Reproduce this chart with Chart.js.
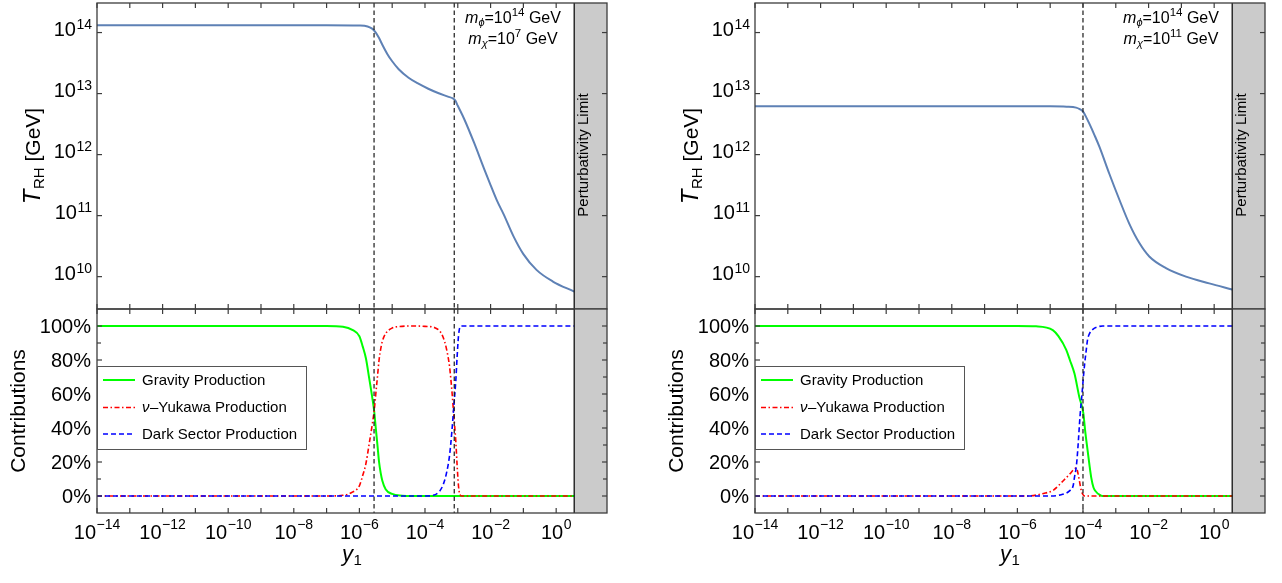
<!DOCTYPE html>
<html><head><meta charset="utf-8">
<script src="https://cdn.jsdelivr.net/npm/chart.js@4.4.0/dist/chart.umd.min.js"></script>
<style>
html,body{margin:0;padding:0;background:#fff;}
#wrap{position:relative;width:1282px;height:583px;overflow:hidden;background:#fff;}
canvas{position:absolute;top:0;}
</style></head><body>
<div id="wrap">
<canvas id="Ltop" width="641" height="583" style="left:0px"></canvas>
<canvas id="Lbot" width="641" height="583" style="left:0px"></canvas>
<canvas id="Rtop" width="641" height="583" style="left:641px"></canvas>
<canvas id="Rbot" width="641" height="583" style="left:641px"></canvas>
</div>
<script>
// ---------------- DATA ----------------
const xMin = 1e-14, xMax = 35.45, perturbLimit = 3.545;
const tMin = 2.95e9, tMax = 3.05e14;
const pctMin = -10, pctMax = 110;

const xTicks = [1e-14,1e-13,1e-12,1e-11,1e-10,1e-9,1e-8,1e-7,1e-6,1e-5,1e-4,1e-3,1e-2,1e-1,1e0];
const xTickLabels = ['\u221214','','\u221212','','\u221210','','\u22128','','\u22126','','\u22124','','\u22122','','0'];
const tTicks = [1e10,1e11,1e12,1e13,1e14];
const tTickLabels = ['10','11','12','13','14'];
const pctTicks = [0,10,20,30,40,50,60,70,80,90,100];
const pctTickLabels = ['0%','','20%','','40%','','60%','','80%','','100%'];

// left panel (m_chi = 1e7 GeV)
const leftTransitions = [2.8e-6, 7.8e-4];
const leftTopY1 = [1e-14,1e-7,1e-6,1.78e-6,2.51e-6,3.16e-6,3.98e-6,5.01e-6,7.08e-6,1e-5,1.58e-5,3.16e-5,6.31e-5,1.26e-4,2.51e-4,5.01e-4,7.08e-4,8.32e-4,1e-3,1.58e-3,3.16e-3,6.31e-3,1e-2,1.58e-2,2.51e-2,5.01e-2,0.1,0.251,0.794,3.545];
const leftTopTRH = [1.318e14,1.318e14,1.303e14,1.259e14,1.148e14,1.0e14,8.13e13,6.31e13,4.47e13,3.39e13,2.51e13,1.82e13,1.45e13,1.20e13,1.02e13,8.91e12,8.32e12,7.76e12,6.31e12,3.80e12,1.55e12,5.89e11,3.16e11,1.74e11,1.05e11,4.57e10,2.34e10,1.29e10,8.32e9,5.69e9];

const leftGravY1 = [1e-14,1e-7,3.16e-7,6.31e-7,1e-6,1.26e-6,1.58e-6,2.0e-6,2.51e-6,2.82e-6,3.16e-6,3.55e-6,3.98e-6,4.47e-6,5.01e-6,6.31e-6,1e-5,2.0e-5,3.98e-5,3.545];
const leftGravPct = [100,100,99.6,97.6,94,88,81,69,57,50,40,30,20,13.5,9,4,1.2,0.2,0,0];
const leftYukY1 = [1e-14,1e-7,3.16e-7,6.31e-7,1e-6,1.26e-6,1.58e-6,2.0e-6,2.51e-6,2.82e-6,3.16e-6,3.55e-6,3.98e-6,4.47e-6,5.01e-6,6.31e-6,1e-5,2.0e-5,3.98e-5,1e-4,2.0e-4,2.82e-4,3.55e-4,4.47e-4,5.62e-4,6.61e-4,7.59e-4,8.71e-4,9.55e-4,1.05e-3,1.15e-3,1.32e-3,3.545];
const leftYukPct = [0,0,0.4,2.4,6,12,19,31,43,50,60,70,80,86.5,91,95.5,98.8,99.8,100,99.8,99,97,93.5,87,76,62,47,32,18,6,1,0,0];
const leftDarkY1 = [1e-14,1e-4,1.78e-4,2.82e-4,3.55e-4,4.47e-4,5.62e-4,6.61e-4,7.59e-4,8.71e-4,9.55e-4,1.05e-3,1.15e-3,1.32e-3,3.545];
const leftDarkPct = [0,0,0.4,3,6.5,13,24,38,53,68,82,94,99,100,100];

// right panel (m_chi = 1e11 GeV)
const rightTransitions = [1.0e-4];
const rightTopY1 = [1e-14,1e-5,3.16e-5,6.17e-5,7.94e-5,1.02e-4,1.26e-4,1.55e-4,2.24e-4,3.16e-4,6.31e-4,1.29e-3,2.57e-3,5.25e-3,1.05e-2,3.39e-2,0.138,0.708,3.545];
const rightTopTRH = [6.17e12,6.17e12,6.10e12,5.89e12,5.56e12,5.01e12,4.07e12,3.24e12,2.09e12,1.35e12,4.90e11,1.82e11,7.41e10,3.55e10,2.14e10,1.38e10,1.0e10,7.76e9,6.17e9];

const rightGravY1 = [1e-14,1e-6,3.72e-6,1.20e-5,1.78e-5,3.09e-5,3.98e-5,5.50e-5,7.76e-5,1.02e-4,1.17e-4,1.38e-4,1.58e-4,1.78e-4,2.09e-4,2.51e-4,3.16e-4,3.98e-4,3.545];
const rightGravPct = [100,100,99.8,97.6,94,86,80,72,58,49,38,27,18,11,5,2.5,0.8,0,0];
const rightYukY1 = [1e-14,2.0e-6,6.31e-6,1.26e-5,2.51e-5,3.98e-5,5.50e-5,6.31e-5,7.08e-5,7.94e-5,8.91e-5,1e-4,1.12e-4,3.545];
const rightYukPct = [0,0,1.5,3.5,9,13,16,16.5,13,8,3,0.8,0,0];
const rightDarkY1 = [1e-14,1e-5,1.91e-5,3.89e-5,5.01e-5,5.50e-5,6.31e-5,6.92e-5,8.13e-5,9.33e-5,1.10e-4,1.26e-4,1.38e-4,1.58e-4,2.0e-4,2.82e-4,3.98e-4,3.545];
const rightDarkPct = [0,0,0.5,3,6,11,18,27,47,60,76,86,92,95.5,98,99.5,100,100];

const legendNames = ['Gravity Production','\u03bd|\u2013Yukawa Production','Dark Sector Production'];
const mPhiExp = '14';
const mChiExps = ['7','11'];

// ---------------- STYLE / LAYOUT ----------------
const FONT = "'Liberation Sans', Arial, Helvetica, sans-serif";
const fnt = (s, st) => (st ? st + ' ' : '') + s + 'px ' + FONT;
const FRAME = '#3c3c3c';
const TOP_Y = 3, MID_Y = 309, BOT_Y = 513, CW = 641, CH = 583;

const pts = (xs, ys) => xs.map((x, i) => ({x: x, y: ys[i]}));

function runsWidth(ctx, runs) {
  let w = 0;
  for (const r of runs) { ctx.font = r.font; w += ctx.measureText(r.t).width + (r.pre || 0); }
  return w;
}
function drawRuns(ctx, runs, x, y, align) {
  const w = runsWidth(ctx, runs);
  let cx = align === 'center' ? x - w / 2 : (align === 'right' ? x - w : x);
  ctx.textAlign = 'left'; ctx.textBaseline = 'alphabetic'; ctx.fillStyle = '#000';
  for (const r of runs) {
    ctx.font = r.font; cx += (r.pre || 0);
    ctx.fillText(r.t, cx, y + (r.dy || 0));
    cx += ctx.measureText(r.t).width;
  }
}
function seg(ctx, x1, y1, x2, y2) { ctx.beginPath(); ctx.moveTo(x1, y1); ctx.lineTo(x2, y2); ctx.stroke(); }

function commonDeco(chart, transitions) {
  const ctx = chart.ctx, a = chart.chartArea, xs = chart.scales.x;
  ctx.save();
  ctx.strokeStyle = '#1a1a1a'; ctx.lineWidth = 1.2; ctx.setLineDash([4.5, 3]);
  for (const t of transitions) { const px = xs.getPixelForValue(t); seg(ctx, px, a.top, px, a.bottom); }
  ctx.setLineDash([]);
  const xb = xs.getPixelForValue(perturbLimit);
  ctx.strokeStyle = '#111'; ctx.lineWidth = 1.3; seg(ctx, xb, a.top, xb, a.bottom);
  ctx.strokeStyle = FRAME; ctx.lineWidth = 1.2;
  for (const v of xTicks) {
    const px = xs.getPixelForValue(v);
    seg(ctx, px, a.top, px, a.top + 5);
    seg(ctx, px, a.bottom, px, a.bottom - 5);
  }
  ctx.restore();
}
function drawFrame(chart) {
  const ctx = chart.ctx, a = chart.chartArea;
  ctx.save(); ctx.strokeStyle = FRAME; ctx.lineWidth = 1.3;
  ctx.strokeRect(a.left, a.top, a.right - a.left, a.bottom - a.top);
  ctx.restore();
}
const bandPlugin = {
  id: 'band',
  beforeDatasetsDraw(chart) {
    const ctx = chart.ctx, a = chart.chartArea, xs = chart.scales.x;
    const xb = xs.getPixelForValue(perturbLimit);
    ctx.save(); ctx.fillStyle = '#cbcbcb';
    ctx.fillRect(xb, a.top, a.right - xb, a.bottom - a.top);
    ctx.restore();
  }
};

function topDeco(panel) {
  return { id: 'topdeco', afterDatasetsDraw(chart) {
    const ctx = chart.ctx, a = chart.chartArea, ys = chart.scales.y;
    commonDeco(chart, panel.transitions);
    ctx.save(); ctx.strokeStyle = FRAME; ctx.lineWidth = 1.2;
    tTicks.forEach((v, i) => {
      const py = ys.getPixelForValue(v);
      seg(ctx, a.left, py, a.left + 5, py); seg(ctx, a.right, py, a.right - 5, py);
      drawRuns(ctx, [{t: '10', font: fnt(20)}, {t: tTickLabels[i], font: fnt(14), dy: -7, pre: 0.5}], a.left - 5, py + 3.5, 'right');
    });
    ctx.restore();
    drawFrame(chart);
    ctx.save();
    ctx.translate(a.left - 57, (a.top + a.bottom) / 2); ctx.rotate(-Math.PI / 2);
    drawRuns(ctx, [{t: 'T', font: fnt(24, 'italic')}, {t: 'RH', font: fnt(15), dy: 4, pre: 0.5}, {t: ' [GeV]', font: fnt(21)}], 0, 0, 'center');
    ctx.restore();
    ctx.save();
    ctx.translate(a.right - 19, (a.top + a.bottom) / 2 - 1); ctx.rotate(-Math.PI / 2);
    drawRuns(ctx, [{t: 'Perturbativity Limit', font: fnt(15)}], 0, 0, 'center');
    ctx.restore();
    const cx = a.left + 416;
    drawRuns(ctx, [{t: 'm', font: fnt(16, 'italic')}, {t: '\u03d5', font: fnt(11, 'italic'), dy: 3}, {t: '=10', font: fnt(16)}, {t: mPhiExp, font: fnt(11.5), dy: -7}, {t: ' GeV', font: fnt(16)}], cx, 23, 'center');
    drawRuns(ctx, [{t: 'm', font: fnt(16, 'italic')}, {t: '\u03c7', font: fnt(11, 'italic'), dy: 3}, {t: '=10', font: fnt(16)}, {t: panel.mChiExp, font: fnt(11.5), dy: -7}, {t: ' GeV', font: fnt(16)}], cx, 43.5, 'center');
  }};
}

function botDeco(panel) {
  return { id: 'botdeco', afterDatasetsDraw(chart) {
    const ctx = chart.ctx, a = chart.chartArea, xs = chart.scales.x, ys = chart.scales.y;
    commonDeco(chart, panel.transitions);
    ctx.save(); ctx.strokeStyle = FRAME; ctx.lineWidth = 1.2;
    pctTicks.forEach((v, i) => {
      const py = ys.getPixelForValue(v);
      const len = pctTickLabels[i] ? 5 : 4;
      seg(ctx, a.left, py, a.left + len, py); seg(ctx, a.right, py, a.right - len, py);
      if (pctTickLabels[i]) drawRuns(ctx, [{t: pctTickLabels[i], font: fnt(20)}], a.left - 6, py + 7, 'right');
    });
    xTicks.forEach((v, i) => {
      if (!xTickLabels[i]) return;
      const px = xs.getPixelForValue(v);
      drawRuns(ctx, [{t: '10', font: fnt(20)}, {t: xTickLabels[i], font: fnt(14), dy: -10, pre: 0.5}], px, a.bottom + 25.5, 'center');
    });
    ctx.restore();
    drawFrame(chart);
    drawRuns(ctx, [{t: 'y', font: fnt(22, 'italic')}, {t: '1', font: fnt(15), dy: 4, pre: 0.5}], (a.left + a.right) / 2, 561, 'center');
    ctx.save();
    ctx.translate(a.left - 72, (a.top + a.bottom) / 2); ctx.rotate(-Math.PI / 2);
    drawRuns(ctx, [{t: 'Contributions', font: fnt(21)}], 0, 0, 'center');
    ctx.restore();
    const ds = chart.data.datasets;
    const order = ['grav', 'yuk', 'dark'];
    ctx.save();
    ctx.fillStyle = '#fff'; ctx.fillRect(a.left, 366, 209, 83);
    ctx.strokeStyle = '#555'; ctx.lineWidth = 1; ctx.strokeRect(a.left + 0.5, 366.5, 209, 83);
    const rows = [380, 407.5, 434];
    order.forEach((key, i) => {
      const d = ds.find(s => s.key === key);
      ctx.strokeStyle = d.borderColor; ctx.lineWidth = d.borderWidth; ctx.setLineDash(d.borderDash || []);
      seg(ctx, a.left + 6, rows[i], a.left + 38, rows[i]);
      ctx.setLineDash([]);
      const parts = legendNames[i].split('|');
      const runs = parts.length > 1 ? [{t: parts[0], font: fnt(15, 'italic')}, {t: parts[1], font: fnt(15), pre: 0.5}] : [{t: parts[0], font: fnt(15)}];
      drawRuns(ctx, runs, a.left + 45, rows[i] + 4.8, 'left');
    });
    ctx.restore();
  }};
}

function mkChart(id, padding, datasets, yOpts, deco) {
  return new Chart(document.getElementById(id), {
    type: 'line',
    data: {datasets: datasets},
    options: {
      responsive: false, animation: false, devicePixelRatio: 1, events: [],
      layout: {padding: padding},
      plugins: {legend: {display: false}, tooltip: {enabled: false}},
      scales: {
        x: {type: 'logarithmic', min: xMin, max: xMax, display: false},
        y: Object.assign({display: false}, yOpts)
      },
      elements: {point: {radius: 0}, line: {cubicInterpolationMode: 'monotone', fill: false}}
    },
    plugins: [bandPlugin, deco]
  });
}

const panels = [
  {canvas: 'L', plotLeft: 97, plotRight: 607, offset: 0, transitions: leftTransitions, mChiExp: mChiExps[0],
   top: [leftTopY1, leftTopTRH], grav: [leftGravY1, leftGravPct], yuk: [leftYukY1, leftYukPct], dark: [leftDarkY1, leftDarkPct]},
  {canvas: 'R', plotLeft: 755, plotRight: 1265, offset: 641, transitions: rightTransitions, mChiExp: mChiExps[1],
   top: [rightTopY1, rightTopTRH], grav: [rightGravY1, rightGravPct], yuk: [rightYukY1, rightYukPct], dark: [rightDarkY1, rightDarkPct]}
];

for (const p of panels) {
  const padL = p.plotLeft - p.offset, padR = CW - (p.plotRight - p.offset);
  mkChart(p.canvas + 'top', {left: padL, right: padR, top: TOP_Y, bottom: CH - MID_Y},
    [{data: pts(p.top[0], p.top[1]), borderColor: '#5e81b5', borderWidth: 2}],
    {type: 'logarithmic', min: tMin, max: tMax}, topDeco(p));
  mkChart(p.canvas + 'bot', {left: padL, right: padR, top: MID_Y, bottom: CH - BOT_Y},
    [
      {key: 'dark', data: pts(p.dark[0], p.dark[1]), borderColor: '#0000ff', borderWidth: 1.6, borderDash: [5, 3]},
      {key: 'yuk', data: pts(p.yuk[0], p.yuk[1]), borderColor: '#ff0000', borderWidth: 1.6, borderDash: [5, 2.5, 1.5, 2.5]},
      {key: 'grav', data: pts(p.grav[0], p.grav[1]), borderColor: '#00ff00', borderWidth: 2}
    ],
    {type: 'linear', min: pctMin, max: pctMax}, botDeco(p));
}
</script>
</body></html>
